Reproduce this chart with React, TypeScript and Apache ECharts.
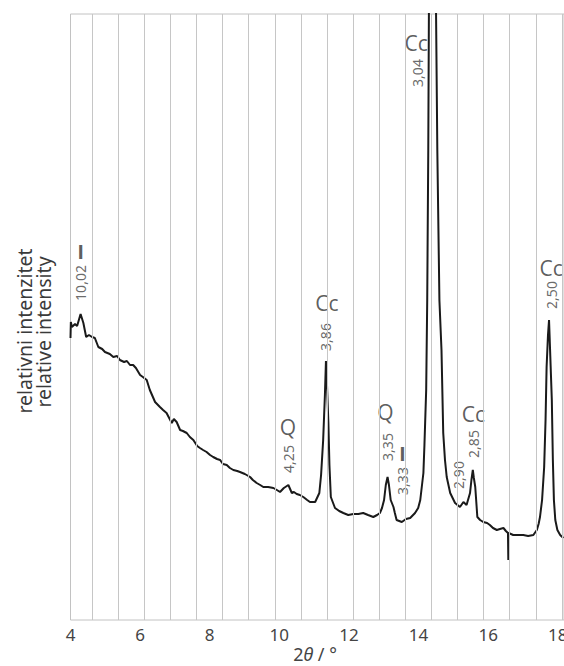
import React, { useEffect, useRef } from "react";
import * as echarts from "echarts";

// 2θ positions (degrees) of the traced diffractogram
const TWO_THETA = [
  4.0, 4.01, 4.04, 4.13, 4.19, 4.29, 4.37, 4.45, 4.53, 4.62, 4.7, 4.8, 4.91, 4.99, 5.13, 5.23, 5.34, 5.42,
  5.54, 5.62, 5.71, 5.8, 5.88, 6.0, 6.08, 6.19, 6.28, 6.43, 6.57, 6.66, 6.76, 6.91, 6.97, 7.05, 7.15, 7.23,
  7.34, 7.43, 7.53, 7.64, 7.72, 7.81, 7.91, 8.01, 8.1, 8.21, 8.3, 8.38, 8.49, 8.58, 8.68, 8.79, 8.87, 9.01,
  9.16, 9.24, 9.35, 9.45, 9.54, 9.68, 9.83, 9.93, 10.02, 10.13, 10.26, 10.36, 10.42, 10.5, 10.59, 10.69,
  10.8, 10.88, 11.03, 11.15, 11.2, 11.26, 11.31, 11.34, 11.37, 11.41, 11.44, 11.48, 11.6, 11.72, 11.84,
  11.98, 12.13, 12.27, 12.41, 12.55, 12.7, 12.81, 12.89, 12.95, 13.01, 13.06, 13.11, 13.15, 13.2, 13.28,
  13.32, 13.37, 13.52, 13.64, 13.76, 13.9, 13.99, 14.05, 14.1, 14.14, 14.17, 14.22, 14.25, 14.28, 14.3,
  14.37, 14.5, 14.54, 14.6, 14.66, 14.71, 14.76, 14.81, 14.91, 15.05, 15.19, 15.29, 15.38, 15.48, 15.52,
  15.56, 15.59, 15.63, 15.69, 15.77, 15.86, 15.97, 16.05, 16.14, 16.25, 16.34, 16.44, 16.51, 16.57, 16.58,
  16.59, 16.72, 16.86, 17.01, 17.15, 17.3, 17.4, 17.45, 17.49, 17.55, 17.61, 17.65, 17.68, 17.72, 17.75,
  17.78, 17.83, 17.86, 17.89, 17.93, 17.99, 18.07, 18.16,
];

// relative intensity (arbitrary units)
const INTENSITY = [
  282, 298, 293, 296, 294, 306, 297, 283, 285, 283, 282, 273, 271, 268, 266, 263, 264, 260,
  258, 259, 255, 255, 252, 245, 243, 240, 230, 218, 213, 210, 207, 197, 201, 198, 190, 189,
  187, 183, 180, 174, 172, 170, 168, 165, 163, 161, 160, 156, 155, 152, 150, 149, 148, 146,
  143, 140, 137, 135, 133, 133, 132, 130, 128, 132, 135, 127, 128, 126, 125, 123,
  120, 118, 118, 127, 145, 180, 225, 259, 235, 197, 155, 123, 112, 109, 107,
  105, 106, 106, 107, 105, 103, 105, 107, 112, 120, 135, 143, 135, 120, 113,
  107, 100, 98, 101, 102, 107, 112, 120, 135, 147, 175, 230, 320, 470, 620,
  760, 620, 470, 320, 270, 187, 160, 143, 127, 117, 113, 118, 115, 127, 140,
  150, 142, 133, 103, 100, 98, 97, 95, 92, 90, 91, 92, 89, 87, 60,
  87, 85, 85, 85, 84, 85, 90, 96, 103, 120, 153, 200, 253, 285, 300,
  270, 220, 160, 120, 100, 90, 85, 82,
];

// chart-paper grid lines (degrees 2θ)
const GRID_LINES = [
  4.62, 5.37, 6.12, 6.87, 7.62, 8.37, 9.12, 9.87, 10.62, 11.37, 12.12, 12.87, 13.62, 14.37, 15.12,
  15.87, 16.62, 17.37, 18.12,
];

// phase labels (upright)
const PHASE_TEXT = ["I", "Q", "Cc", "Q", "I", "Cc", "Cc", "Cc"];
const PHASE_X = [4.29, 10.25, 11.37, 13.05, 13.54, 13.93, 15.58, 17.81];
const PHASE_Y = [369, 193, 317, 208, 167, 577, 206, 352];

// d-spacing labels (rotated)
const D_TEXT = ["10,02", "4,25", "3,86", "3,35", "3,33", "3,04", "2,90", "2,85", "2,50"];
const D_X = [4.3, 10.25, 11.34, 13.11, 13.53, 13.97, 15.16, 15.57, 17.81];
const D_Y = [337, 161, 283, 173, 139, 547, 145, 176, 325];

const X_MIN = 4;
const X_MAX = 18.18;
const Y_MAX = 606;

const FONT = "'Noto Sans', 'DejaVu Sans', sans-serif";
const LABEL_FONT = "'Liberation Sans', 'DejaVu Sans', sans-serif";

export default function App() {
  const ref = useRef<HTMLDivElement>(null);

  useEffect(() => {
    if (!ref.current) return;
    const chart = echarts.init(ref.current, undefined, { renderer: "svg" });

    const curve = TWO_THETA.map((x, i) => [x, INTENSITY[i]]);

    const phaseData = PHASE_TEXT.map((t, i) => ({
      value: [PHASE_X[i], PHASE_Y[i]],
      name: t,
      label: t === "I" ? { fontFamily: LABEL_FONT, fontWeight: "bold" as const, fontSize: 21 } : {},
    }));
    const dData = D_TEXT.map((t, i) => ({
      value: [D_X[i], D_Y[i]],
      name: t,
    }));

    chart.setOption({
      animation: false,
      grid: {
        left: 70.5,
        right: 0,
        top: 14,
        bottom: 46,
        containLabel: false,
        outerBoundsMode: "none",
        show: true,
        borderColor: "#c2c2c2",
        borderWidth: 1,
        backgroundColor: "transparent",
      },
      xAxis: {
        type: "value",
        min: X_MIN,
        max: X_MAX,
        interval: 2,
        axisLine: { show: false },
        axisTick: { show: false },
        splitLine: { show: false },
        axisLabel: {
          fontFamily: FONT,
          fontSize: 17,
          color: "#444",
          margin: 6,
          formatter: (v: number) => (Math.abs(v - Math.round(v)) < 1e-6 ? String(Math.round(v)) : ""),
        },
      },
      yAxis: {
        type: "value",
        min: 0,
        max: Y_MAX,
        axisLine: { show: false },
        axisTick: { show: false },
        axisLabel: { show: false },
        splitLine: { show: false },
      },
      graphic: [
        {
          type: "text",
          x: 24,
          y: 331,
          rotation: Math.PI / 2,
          style: {
            text: "relativni intenzitet",
            fontFamily: FONT,
            fontSize: 19.5,
            fill: "#3a3a3a",
            align: "center",
            verticalAlign: "middle",
          },
        },
        {
          type: "text",
          x: 43,
          y: 332,
          rotation: Math.PI / 2,
          style: {
            text: "relative intensity",
            fontFamily: FONT,
            fontSize: 19.5,
            fill: "#3a3a3a",
            align: "center",
            verticalAlign: "middle",
          },
        },
        {
          type: "text",
          x: 315,
          y: 654,
          style: {
            text: "2{i|θ} / °",
            fontFamily: FONT,
            fontSize: 18,
            fill: "#444",
            align: "center",
            verticalAlign: "middle",
            rich: {
              i: { fontFamily: FONT, fontSize: 18, fontStyle: "italic", fill: "#444" },
            },
          },
        },
      ],
      series: [
        {
          type: "line",
          data: [],
          silent: true,
          z: 1,
          markLine: {
            silent: true,
            symbol: ["none", "none"],
            label: { show: false },
            lineStyle: { color: "#c6c6c6", width: 1, type: "solid" },
            data: GRID_LINES.map((x) => ({ xAxis: x })),
          },
        },
        {
          type: "line",
          data: curve,
          showSymbol: false,
          silent: true,
          clip: true,
          z: 3,
          lineStyle: { color: "#1a1a1a", width: 2 },
        },
        {
          type: "scatter",
          data: phaseData,
          symbolSize: 0.1,
          silent: true,
          clip: false,
          z: 4,
          itemStyle: { color: "transparent" },
          label: {
            show: true,
            position: "inside",
            rotate: 0,
            formatter: (p: any) => p.name,
            fontFamily: "'Open Sans', sans-serif",
            fontSize: 21,
            color: "#333",
          },
        },
        {
          type: "scatter",
          data: dData,
          symbolSize: 0.1,
          silent: true,
          clip: false,
          z: 4,
          itemStyle: { color: "transparent" },
          label: {
            show: true,
            position: "inside",
            rotate: 90,
            formatter: (p: any) => p.name,
            fontFamily: FONT,
            fontSize: 14,
            color: "#444",
          },
        },
      ],
    });

    return () => chart.dispose();
  }, []);

  return (
    <div
      ref={ref}
      style={{ position: "absolute", left: 0, top: 0, width: 564, height: 666, background: "#fff" }}
    />
  );
}
